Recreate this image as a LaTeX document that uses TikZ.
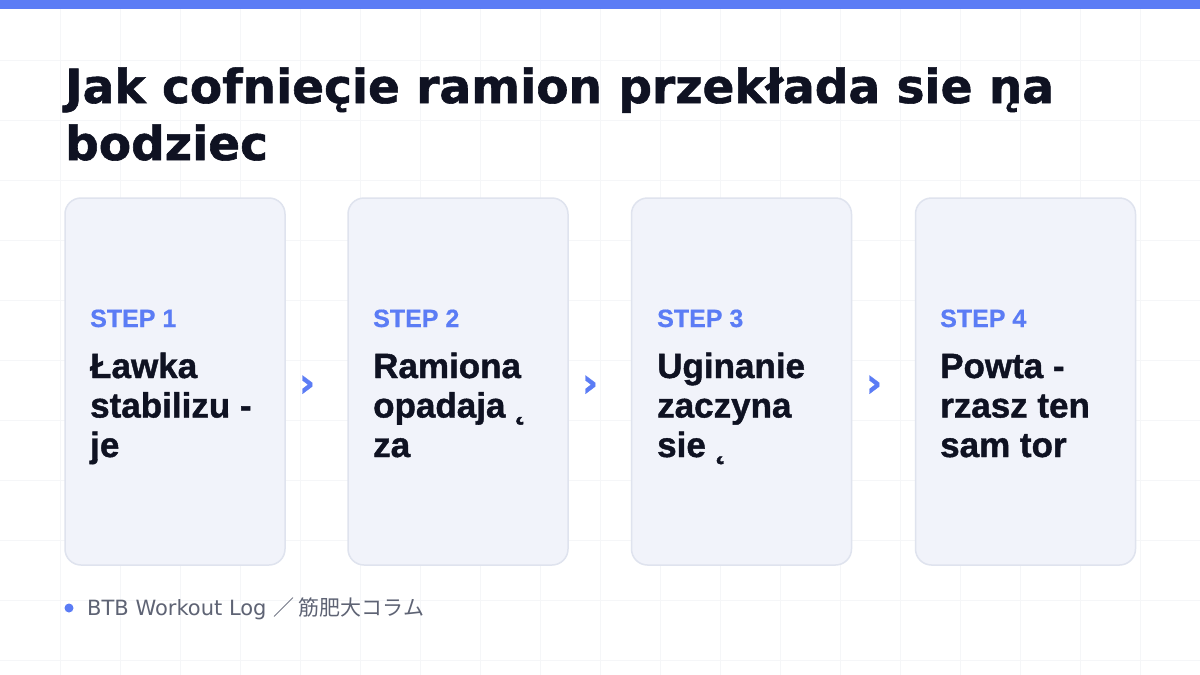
\documentclass[tikz,border=0pt]{standalone}
\usepackage{fontspec}
\setmainfont{Liberation Sans}
\newfontfamily\widefont{DejaVu Sans}
\newfontfamily\jpfont{Noto Sans CJK JP}
\usetikzlibrary{positioning}
\definecolor{accent}{HTML}{5B7CF5}
\definecolor{ink}{HTML}{0F1222}
\definecolor{cardfill}{HTML}{F1F3FA}
\definecolor{cardline}{HTML}{DFE3EE}
\definecolor{gridline}{HTML}{F5F6F8}
\definecolor{muted}{HTML}{5E6374}

\tikzset{
  card/.style={draw=cardline, line width=1.5pt, fill=cardfill, rounded corners=16pt,
    minimum width=220pt, minimum height=367pt, inner sep=0pt},
  steptag/.style={anchor=base west, inner sep=0pt, text=accent,
    font=\fontsize{25}{30}\selectfont\bfseries\addfontfeature{FakeBold=0.6}},
  stepbody/.style={anchor=base west, inner sep=0pt, text=ink, align=left,
    font=\fontsize{35}{39.5}\selectfont\bfseries\addfontfeature{FakeBold=1.2}},
  chevron/.style={inner sep=0pt, text=accent,
    font=\widefont\fontsize{40}{40}\selectfont\bfseries\addfontfeature{FakeBold=1}},
}

\begin{document}
\begin{tikzpicture}[x=1pt,y=-1pt]
\useasboundingbox (0,0) rectangle (1200,675);
\fill[white] (0,0) rectangle (1200,675);
\foreach \gx in {60,120,...,1140} \draw[gridline] (\gx,0) -- (\gx,675);
\foreach \gy in {60,120,...,660} \draw[gridline] (0,\gy) -- (1200,\gy);
\fill[accent] (0,0) rectangle (1200,9);

% title (base = last line)
\node[anchor=base west, inner sep=0pt, text=ink, align=left,
  font=\widefont\fontsize{47}{57}\selectfont\bfseries\addfontfeature{FakeBold=1.2}] (title) at (65,160)
  {Jak cofniec̨ie ramion przekłada sie n̨a\\bodziec};

% cards
\node[card] (card1) at (175,381.5) {};
\node[card] (card2) at (458,381.5) {};
\node[card] (card3) at (741.5,381.5) {};
\node[card] (card4) at (1025.5,381.5) {};

\node[steptag] (tag1) at (90,327) {STEP 1};
\node[steptag] (tag2) at (373,327) {STEP 2};
\node[steptag] (tag3) at (657,327) {STEP 3};
\node[steptag] (tag4) at (940,327) {STEP 4};

\node[stepbody] (body1) at (90,457) {Ławka\\stabilizu -\\je};
\node[stepbody] (body2) at (373,457) {Ramiona\\opadaja ˛\\za};
\node[stepbody] (body3) at (657,457) {Uginanie\\zaczyna\\sie ˛};
\node[stepbody] (body4) at (940,457) {Powta -\\rzasz ten\\sam tor};

\node[chevron] (next1) at (307,386) {›};
\node[chevron] (next2) at (590,386) {›};
\node[chevron] (next3) at (874,386) {›};

% footer
\fill[accent] (69,608) circle (4.5);
\node[anchor=base west, inner sep=0pt, text=muted, font=\widefont\fontsize{21}{24}\selectfont] (footer)
  at (87,615) {BTB Workout Log {\jpfont ／ 筋肥大コラム}};
\end{tikzpicture}
\end{document}
